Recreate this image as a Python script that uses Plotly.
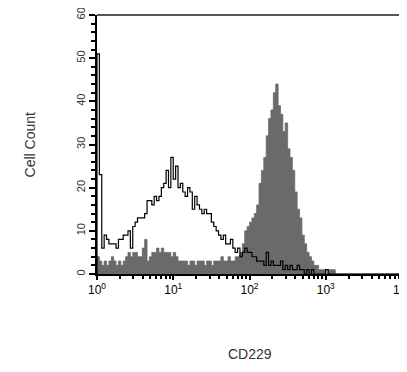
import plotly.graph_objects as go

# 32 channels per decade, starting at 10^0
bins_per_decade = 32

black_counts = [51, 23, 6, 9, 8, 7, 7, 7, 6, 8, 8, 9, 9, 10, 6, 11,
                12, 13, 13, 13, 14, 17, 17, 16, 18, 17, 18, 20, 21, 24, 20, 27,
                22, 25, 20, 21, 19, 18, 20, 19, 15, 18, 16, 15, 14, 15, 14, 14,
                12, 11, 10, 9, 8, 9, 7, 7, 8, 6, 5, 6, 4, 5, 6, 5,
                5, 4, 4, 3, 3, 3, 2, 5, 2, 3, 2, 2, 2, 3, 1, 2,
                1, 2, 1, 1, 2, 1, 1, 0, 1, 0, 1, 0, 0, 0, 0, 0,
                1, 0, 0, 0, 0, 0, 0, 0, 0, 0, 0, 0, 0, 0, 0, 0,
                0, 0, 0, 0, 0, 0, 0, 0, 0, 0, 0, 0, 0, 0, 0, 0]

gray_counts = [4, 3, 2, 3, 2, 3, 4, 3, 2, 3, 2, 3, 4, 5, 4, 5,
               5, 4, 4, 6, 8, 3, 4, 5, 5, 6, 5, 6, 5, 5, 5, 4,
               5, 4, 3, 3, 3, 3, 2, 3, 3, 2, 3, 3, 3, 2, 3, 3,
               2, 3, 3, 3, 4, 3, 3, 4, 3, 3, 4, 4, 5, 7, 10, 11,
               12, 13, 14, 16, 21, 24, 27, 32, 36, 38, 42, 44, 39, 37, 33, 35,
               29, 27, 24, 19, 15, 13, 9, 7, 5, 4, 3, 2, 2, 1, 1, 1,
               0, 1, 1, 1, 0, 0, 0, 0, 0, 0, 0, 0, 0, 0, 0, 0,
               0, 0, 0, 0, 0, 0, 0, 0, 0, 0, 0, 0, 0, 0, 0, 0]

x_tick_vals = [1, 10, 100, 1000, 10000]
x_tick_text = ["10<sup>0</sup>", "10<sup>1</sup>", "10<sup>2</sup>", "10<sup>3</sup>", "10<sup>4</sup>"]
y_tick_vals = [0, 10, 20, 30, 40, 50, 60]

n = len(black_counts)
edges = [10 ** (i / bins_per_decade) for i in range(n + 1)]

fig = go.Figure()
fig.add_trace(go.Scatter(
    x=edges, y=gray_counts + [gray_counts[-1]],
    mode="lines", line=dict(shape="hv", color="#6a6a6a", width=0.8),
    fill="tozeroy", fillcolor="#6a6a6a", hoverinfo="skip"))
fig.add_trace(go.Scatter(
    x=[1] + edges, y=[0] + black_counts + [black_counts[-1]],
    mode="lines", line=dict(shape="hv", color="#000000", width=1.2),
    hoverinfo="skip"))

minor_x = [m * 10 ** d for d in range(4) for m in range(2, 10)]

fig.update_layout(
    width=399, height=356,
    margin=dict(l=89, r=5, t=7, b=90, autoexpand=False),
    paper_bgcolor="white", plot_bgcolor="white",
    showlegend=False,
    font=dict(family="Liberation Sans, Arial, sans-serif", color="#000"),
    shapes=[
        dict(type="line", xref="paper", yref="paper", x0=0, y0=1, x1=1, y1=1,
             line=dict(color="#555555", width=2), layer="above"),
        dict(type="line", xref="paper", yref="paper", x0=1, y0=0, x1=1, y1=1,
             line=dict(color="#555555", width=2), layer="above"),
    ],
    annotations=[
        dict(text="Cell Count", xref="paper", yref="paper", x=-0.22, y=0.5,
             xanchor="center", yanchor="middle", textangle=-90, showarrow=False,
             font=dict(size=14, color="#333")),
        dict(text="CD229", xref="paper", yref="paper", x=0.5, y=-0.31,
             xanchor="center", yanchor="middle", showarrow=False,
             font=dict(size=14, color="#333")),
    ],
)
fig.update_xaxes(type="log", range=[0, 4], showgrid=False, zeroline=False,
                 showline=True, linecolor="black", linewidth=2, automargin=False,
                 tickmode="array", tickvals=x_tick_vals, ticktext=x_tick_text,
                 ticks="outside", ticklen=4, tickwidth=1.5, tickcolor="black",
                 tickfont=dict(size=12, color="#000"), ticklabeloverflow="allow",
                 minor=dict(tickmode="array", tickvals=minor_x, ticks="outside",
                            ticklen=3, tickwidth=1.5, tickcolor="black"))
fig.update_yaxes(range=[0, 60], showgrid=False, zeroline=False,
                 showline=True, linecolor="black", linewidth=2, automargin=False,
                 tickmode="array", tickvals=y_tick_vals,
                 ticks="outside", ticklen=6, tickwidth=1.5, tickcolor="black",
                 tickangle=-90, tickfont=dict(size=11, color="#333"),
                 ticklabeloverflow="allow",
                 minor=dict(dtick=2, ticks="outside", ticklen=4, tickwidth=1.5,
                            tickcolor="black"))

fig.write_html("out.html")
